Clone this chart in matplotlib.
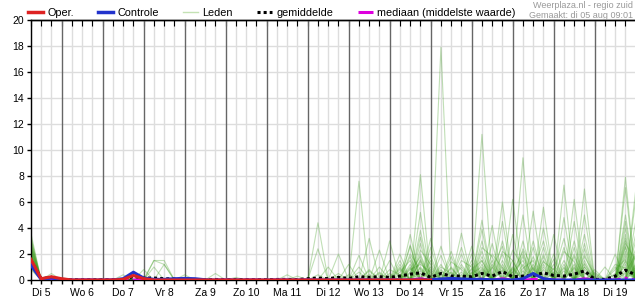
import numpy as np
import matplotlib.pyplot as plt
from matplotlib.lines import Line2D

plt.rcParams['font.family'] = ['Liberation Sans', 'DejaVu Sans']

# tijdstappen van 6 uur, vanaf di 5 aug 06:00 (index 0) t/m wo 20 aug 00:00 (index 59)
n_stappen = 60
dagen = ['Di 5', 'Wo 6', 'Do 7', 'Vr 8', 'Za 9', 'Zo 10', 'Ma 11', 'Di 12',
         'Wo 13', 'Do 14', 'Vr 15', 'Za 16', 'Zo 17', 'Ma 18', 'Di 19']

# operationele run (loopt tot vr 15 00:00)
oper = [1.6, 0.1, 0.25, 0.1, 0, 0, 0, 0, 0, 0.05,
        0.35, 0.1, 0, 0, 0, 0, 0, 0, 0, 0,
        0, 0, 0, 0, 0, 0, 0, 0, 0, 0,
        0, 0, 0, 0, 0, 0, 0, 0, 0, 0]

controle = [1.15, 0.05, 0.15, 0.02, 0, 0, 0, 0, 0, 0.1,
            0.6, 0.15, 0.05, 0.05, 0.1, 0.12, 0.1, 0.02, 0, 0,
            0, 0, 0, 0, 0, 0, 0, 0, 0, 0,
            0, 0, 0, 0, 0, 0, 0, 0, 0, 0.02,
            0.08, 0.12, 0.08, 0.05, 0.05, 0.02, 0.02, 0, 0.1, 0.5,
            0.1, 0, 0, 0, 0, 0, 0, 0, 0, 0]

gemiddelde = [1.5, 0.1, 0.2, 0.05, 0.02, 0.02, 0.02, 0.02, 0.02, 0.05,
              0.25, 0.15, 0.15, 0.1, 0.08, 0.05, 0.03, 0.03, 0.04, 0.03,
              0.03, 0.03, 0.03, 0.03, 0.04, 0.05, 0.03, 0.1, 0.15, 0.1,
              0.2, 0.12, 0.25, 0.2, 0.25, 0.2, 0.3, 0.45, 0.55, 0.2,
              0.5, 0.3, 0.3, 0.25, 0.5, 0.3, 0.65, 0.25, 0.3, 0.35,
              0.55, 0.35, 0.3, 0.45, 0.7, 0.05, 0.05, 0.3, 0.75, 0.4]

mediaan = [1.3, 0.02, 0, 0, 0, 0, 0, 0, 0, 0,
           0, 0, 0, 0, 0, 0, 0, 0, 0, 0,
           0, 0, 0, 0, 0, 0, 0, 0, 0, 0,
           0, 0, 0, 0, 0, 0, 0, 0, 0.1, 0,
           0.05, 0, 0, 0, 0.08, 0, 0.1, 0, 0, 0.05,
           0.1, 0, 0, 0, 0.1, 0, 0, 0, 0.15, 0]

# ensembleleden: {tijdstap: neerslag}, overige tijdstappen 0
leden = [
    {0: 3.6, 12: 1.5, 13: 1.5, 40: 17.9, 48: 2.0, 54: 1.0, 58: 2.5},
    {0: 3.2, 28: 4.4, 38: 8.1, 44: 1.5, 52: 7.3, 57: 0.5, 59: 6.9},
    {0: 2.9, 2: 0.5, 32: 7.6, 36: 1.0, 44: 11.2, 50: 1.5, 58: 7.9},
    {0: 2.6, 11: 0.8, 28: 2.4, 38: 5.2, 46: 6.0, 49: 1.0, 54: 7.0, 59: 2.0},
    {0: 2.4, 30: 2.0, 37: 2.6, 42: 3.6, 48: 9.4, 53: 2.0, 58: 7.1},
    {0: 2.2, 18: 0.5, 33: 3.2, 38: 3.3, 44: 4.6, 47: 6.2, 52: 2.5, 59: 6.2},
    {0: 2.0, 9: 0.4, 34: 2.3, 39: 3.2, 43: 2.6, 49: 5.3, 53: 6.2, 58: 3.0},
    {0: 1.9, 25: 0.4, 35: 3.0, 37: 2.7, 44: 3.9, 50: 5.6, 54: 3.5, 58: 4.0},
    {0: 1.8, 15: 0.4, 32: 1.9, 38: 2.0, 40: 1.9, 45: 2.8, 51: 3.5, 56: 1.0, 59: 4.5},
    {0: 1.6, 12: 1.0, 20: 0.2, 36: 1.5, 41: 1.8, 46: 4.5, 48: 3.0, 55: 0.8, 58: 5.0},
    {0: 1.5, 29: 1.0, 37: 3.5, 42: 2.5, 47: 3.5, 50: 4.0, 53: 4.5, 57: 2.0},
    {0: 1.4, 31: 1.2, 36: 2.0, 39: 2.5, 44: 2.2, 49: 3.0, 52: 4.8, 58: 3.5},
    {0: 1.3, 13: 1.2, 34: 1.0, 38: 2.8, 43: 1.5, 46: 3.0, 51: 2.0, 54: 5.0, 59: 3.0},
    {0: 1.2, 26: 0.3, 35: 1.5, 40: 1.2, 42: 2.0, 45: 4.2, 48: 5.0, 53: 3.0, 58: 2.0},
    {0: 1.1, 2: 0.3, 33: 0.8, 37: 1.8, 41: 1.0, 44: 3.0, 47: 1.5, 50: 2.5, 55: 0.6, 59: 3.5},
    {0: 1.0, 30: 0.5, 36: 0.8, 38: 1.5, 43: 1.2, 46: 2.0, 49: 2.5, 54: 2.0, 58: 1.5},
    {0: 0.9, 32: 0.6, 37: 1.0, 40: 0.8, 44: 1.8, 48: 1.2, 52: 1.5, 57: 1.0, 59: 1.8},
    {0: 0.8, 11: 0.3, 35: 0.5, 38: 1.0, 42: 1.0, 46: 1.5, 50: 1.0, 53: 1.2, 58: 2.2},
    {0: 2.7, 31: 0.4, 39: 1.5, 41: 2.2, 45: 1.0, 48: 1.8, 51: 1.2, 54: 1.5, 58: 1.2},
    {0: 2.3, 34: 0.5, 36: 1.2, 39: 0.8, 43: 0.6, 47: 1.0, 49: 1.8, 52: 1.0, 55: 0.5, 59: 1.0},
    {0: 3.0, 37: 0.6, 38: 1.8, 40: 0.5, 44: 0.8, 46: 1.2, 50: 0.8, 54: 1.2, 57: 0.4, 58: 1.0},
    {0: 1.7, 36: 0.4, 39: 1.0, 42: 0.6, 45: 1.5, 47: 0.8, 51: 0.6, 53: 0.9, 58: 0.8},
    {0: 2.1, 12: 1.5, 13: 1.2, 38: 0.7, 41: 0.6, 44: 1.2, 48: 0.7, 50: 1.8, 54: 0.8, 59: 0.8},
    {0: 1.2, 37: 1.2, 40: 0.4, 43: 0.9, 46: 0.7, 49: 1.2, 52: 0.7, 55: 0.3, 58: 1.8},
    {0: 2.5, 10: 0.3, 38: 0.5, 44: 0.6, 47: 0.9, 51: 0.9, 54: 0.6, 58: 0.6},
    {0: 1.9, 37: 0.8, 38: 1.2, 39: 0.6, 42: 1.5, 43: 1.0, 46: 2.2, 47: 1.5, 50: 1.4, 51: 0.8, 54: 2.4, 58: 2.8, 59: 1.5},
    {0: 2.8, 36: 0.6, 37: 1.5, 40: 1.0, 41: 0.5, 44: 2.5, 45: 1.8, 48: 0.9, 49: 1.5, 52: 2.2, 53: 1.4, 57: 0.8, 58: 1.6},
    {0: 1.4, 35: 0.3, 38: 2.3, 39: 1.2, 43: 0.8, 44: 1.5, 47: 2.3, 48: 1.0, 51: 1.6, 54: 1.8, 55: 0.4, 59: 2.4},
    {0: 2.0, 33: 0.4, 37: 0.9, 41: 1.4, 42: 0.8, 45: 0.9, 46: 2.6, 50: 2.0, 53: 1.0, 58: 3.2},
    {0: 3.3, 38: 1.4, 40: 2.6, 43: 0.5, 44: 1.0, 48: 2.4, 49: 0.8, 52: 1.2, 54: 2.8, 57: 1.2, 58: 0.9},
    {0: 1.0, 34: 0.6, 37: 2.0, 38: 0.8, 42: 1.2, 45: 2.0, 46: 0.9, 49: 0.7, 50: 3.0, 53: 2.5, 58: 4.5},
    {0: 2.2, 36: 0.9, 38: 3.8, 41: 0.9, 44: 0.9, 47: 0.6, 48: 1.5, 51: 0.5, 52: 3.2, 54: 1.3, 59: 1.2},
    {0: 1.6, 30: 0.3, 32: 1.0, 37: 0.5, 39: 1.8, 43: 2.0, 46: 1.0, 49: 0.9, 53: 1.8, 58: 2.6},
    {0: 2.5, 28: 0.4, 33: 0.7, 38: 0.9, 40: 0.7, 45: 1.2, 47: 0.6, 48: 2.2, 52: 0.9, 54: 1.0, 58: 1.4},
    {0: 1.3, 35: 0.8, 36: 0.4, 38: 1.6, 42: 0.4, 44: 0.7, 46: 0.8, 50: 1.2, 54: 0.5, 58: 0.5, 59: 2.0},
]

fig = plt.figure(figsize=(6.35, 3.0), dpi=100)
ax = fig.add_axes([30.9 / 635, 20 / 300, 604.8 / 635, 260 / 300])

t = np.arange(n_stappen)

# rooster
for y in range(2, 21, 2):
    ax.axhline(y, color='#dddddd', lw=1, zorder=0)
for i in t:
    if (i + 1) % 4 == 0:
        ax.axvline(i, color='#666666', lw=1, zorder=1)
    else:
        ax.axvline(i, color='#dddddd', lw=1, zorder=0)

for lid in leden:
    serie = np.zeros(n_stappen)
    for k, v in lid.items():
        serie[k] = v
    ax.plot(t, serie, color='#3c9c1c', lw=0.8, alpha=0.32, zorder=2)

ax.plot(t, gemiddelde, color='black', lw=2.2, linestyle=(0, (1, 1)), zorder=3)
ax.plot(t, mediaan, color='#dd00dd', lw=2.0, linestyle=(0, (6, 1.5, 1, 1.5)), zorder=3)
ax.plot(t, controle, color='#2233cc', lw=2.2, zorder=4)
ax.plot(t[:len(oper)], oper, color='#dd2222', lw=2.2, zorder=5)

ax.set_xlim(0, n_stappen - 1)
ax.set_ylim(0, 20)
ax.set_yticks(range(0, 21, 2))
ax.set_xticks([4 * k + 1 for k in range(len(dagen))])
ax.set_xticklabels(dagen)
ax.set_xticks(t, minor=True)
ax.tick_params(axis='both', which='both', direction='out', length=3, width=1,
               labelsize=7.5, pad=2, colors='black')
ax.tick_params(axis='x', which='major', pad=3)

sec = ax.secondary_xaxis('top')
sec.set_xticks(t)
sec.tick_params(direction='in', length=4, labeltop=False)
sec.spines['top'].set_linewidth(1)

for s in ['left', 'bottom', 'top']:
    ax.spines[s].set_linewidth(1)
    ax.spines[s].set_color('black')
ax.spines['right'].set_visible(False)

handles = [
    Line2D([], [], color='#dd2222', lw=2.5),
    Line2D([], [], color='#2233cc', lw=2.5),
    Line2D([], [], color='#c4e2b4', lw=1),
    Line2D([], [], color='black', lw=2.2, linestyle=(0, (1, 1))),
    Line2D([], [], color='#dd00dd', lw=2.2, linestyle=(0, (6, 1.5, 1, 1.5))),
]
labels = ['Oper.', 'Controle', 'Leden', 'gemiddelde', 'mediaan (middelste waarde)']
fig.legend(handles, labels, loc='center left', bbox_to_anchor=(28 / 635, 1 - 13 / 300),
           ncol=5, frameon=False, fontsize=7.8, handlelength=1.4, handletextpad=0.37,
           columnspacing=2.25, borderpad=0, borderaxespad=0)

fig.text(633 / 635, 1 - 6 / 300, 'Weerplaza.nl - regio zuid', ha='right', va='center',
         fontsize=6.5, color='#999999')
fig.text(633 / 635, 1 - 15 / 300, 'Gemaakt: di 05 aug 09:01', ha='right', va='center',
         fontsize=6.5, color='#999999')

fig.savefig('out.png', dpi=100)
